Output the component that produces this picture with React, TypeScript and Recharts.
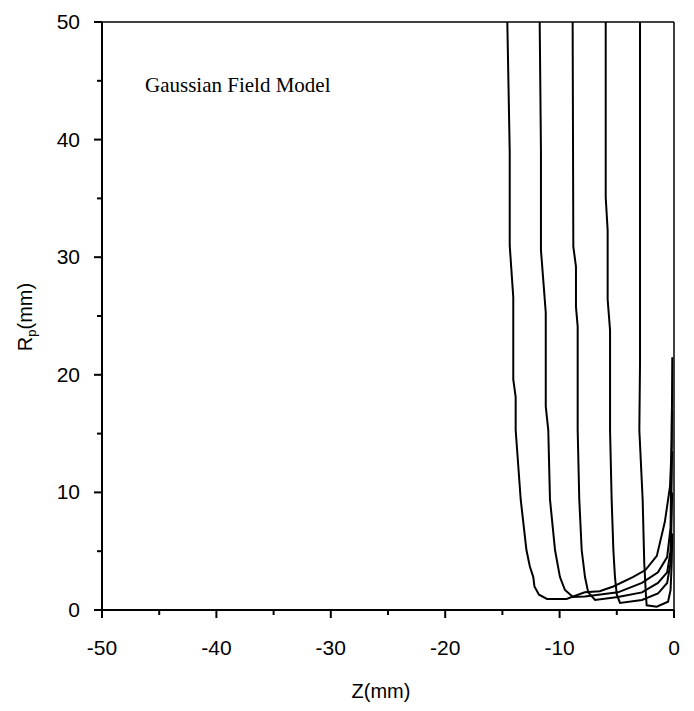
import { LineChart, Line, XAxis, YAxis, ReferenceLine } from "recharts";

// tick positions (every 5, labelled every 10)
const zTicks = [-50, -45, -40, -35, -30, -25, -20, -15, -10, -5, 0];
const rTicks = [0, 5, 10, 15, 20, 25, 30, 35, 40, 45, 50];

// trajectories, (z, r) in mm
const traj1 = [
  { z: -14.57, r: 50 }, { z: -14.36, r: 39 }, { z: -14.36, r: 31 }, { z: -14.05, r: 26.6 },
  { z: -14.05, r: 19.6 }, { z: -13.84, r: 18.1 }, { z: -13.84, r: 15.3 }, { z: -13.4, r: 9.4 },
  { z: -12.9, r: 5.1 }, { z: -12.6, r: 3.7 }, { z: -12.3, r: 2.8 }, { z: -12.2, r: 2.0 },
  { z: -11.8, r: 1.3 }, { z: -11.1, r: 0.94 }, { z: -9.4, r: 0.94 }, { z: -7.8, r: 1.5 },
  { z: -6.5, r: 1.6 }, { z: -5.3, r: 2.0 }, { z: -3.6, r: 2.8 }, { z: -2.5, r: 3.4 },
  { z: -1.5, r: 4.6 }, { z: -0.8, r: 7.5 }, { z: -0.35, r: 10.5 }, { z: -0.2, r: 14 },
  { z: -0.15, r: 21.5 },
];
const traj2 = [
  { z: -11.74, r: 50 }, { z: -11.63, r: 39 }, { z: -11.63, r: 30.6 }, { z: -11.21, r: 25.3 },
  { z: -11.21, r: 17.3 }, { z: -10.99, r: 15.3 }, { z: -10.84, r: 9.4 }, { z: -10.4, r: 5.1 },
  { z: -9.97, r: 2.8 }, { z: -9.53, r: 1.7 }, { z: -8.83, r: 1.1 }, { z: -7.8, r: 1.15 },
  { z: -4.9, r: 1.5 }, { z: -2.8, r: 2.3 }, { z: -1.4, r: 3.2 }, { z: -0.6, r: 4.5 },
  { z: -0.3, r: 7 }, { z: -0.18, r: 17 },
];
const traj3 = [
  { z: -8.86, r: 50 }, { z: -8.8, r: 30.9 }, { z: -8.57, r: 29.2 }, { z: -8.57, r: 25.8 },
  { z: -8.42, r: 24.1 }, { z: -8.42, r: 15.3 }, { z: -8.28, r: 9.4 }, { z: -8.07, r: 5.1 },
  { z: -7.78, r: 2.8 }, { z: -7.5, r: 1.5 }, { z: -6.9, r: 0.85 }, { z: -4.9, r: 1.1 },
  { z: -2.8, r: 1.5 }, { z: -1.4, r: 2.3 }, { z: -0.6, r: 3.2 }, { z: -0.3, r: 5 },
  { z: -0.17, r: 13.5 },
];
const traj4 = [
  { z: -5.97, r: 50 }, { z: -5.97, r: 35.1 }, { z: -5.8, r: 32.3 }, { z: -5.8, r: 26.4 },
  { z: -5.59, r: 23.8 }, { z: -5.59, r: 15.3 }, { z: -5.45, r: 9.4 }, { z: -5.3, r: 5.1 },
  { z: -5.16, r: 2.8 }, { z: -5.0, r: 1.3 }, { z: -4.72, r: 0.6 }, { z: -2.8, r: 0.85 },
  { z: -1.4, r: 1.4 }, { z: -0.6, r: 2.3 }, { z: -0.3, r: 4 }, { z: -0.16, r: 10 },
];
const traj5 = [
  { z: -2.97, r: 50 }, { z: -2.97, r: 21 }, { z: -3.03, r: 15.3 }, { z: -2.74, r: 9.4 },
  { z: -2.6, r: 4 }, { z: -2.45, r: 1.2 }, { z: -2.39, r: 0.4 }, { z: -1.51, r: 0.28 },
  { z: -0.52, r: 0.7 }, { z: -0.3, r: 1.7 }, { z: -0.2, r: 4 }, { z: -0.15, r: 6.5 },
];

const trajectories = [traj1, traj2, traj3, traj4, traj5];

const FONT = "'Liberation Sans', Arial, sans-serif";
const TICK_FONT = 21;

function XTick({ x, y, payload }: any) {
  const major = payload.value % 10 === 0;
  return (
    <g>
      <line x1={x} y1={y} x2={x} y2={y + (major ? 8 : 5)} stroke="#000" strokeWidth={2} />
      {major && (
        <text x={x} y={y + 45} textAnchor="middle" fontFamily={FONT} fontSize={TICK_FONT} fill="#000">
          {payload.value}
        </text>
      )}
    </g>
  );
}

function YTick({ x, y, payload }: any) {
  const major = payload.value % 10 === 0;
  return (
    <g>
      <line x1={x - (major ? 8 : 5)} y1={y} x2={x} y2={y} stroke="#000" strokeWidth={2} />
      {major && (
        <text x={x - 22} y={y + 7} textAnchor="end" fontFamily={FONT} fontSize={TICK_FONT} fill="#000">
          {payload.value}
        </text>
      )}
    </g>
  );
}

function YTitle() {
  return (
    <text transform="translate(24,309) rotate(-90)" textAnchor="middle" fontFamily={FONT} fontSize={20} fill="#000">
      R<tspan fontSize={13} dy={4}>p</tspan>
      <tspan dy={-4}>(mm)</tspan>
    </text>
  );
}

function XTitle() {
  return (
    <text x={373} y={690} textAnchor="middle" fontFamily={FONT} fontSize={20} fill="#000">
      Z(mm)
    </text>
  );
}

export default function App() {
  return (
    <div style={{ position: "relative", width: 680, height: 700 }}>
      <LineChart width={680} height={700} margin={{ top: 14, right: 14, left: 34, bottom: 38 }}>
        <XAxis
          type="number"
          dataKey="z"
          domain={[-50, 0]}
          ticks={zTicks}
          interval={0}
          tickSize={0}
          tickMargin={0}
          tickLine={false}
          tick={<XTick />}
          height={60}
          axisLine={{ stroke: "#000", strokeWidth: 2 }}
          label={<XTitle />}
        />
        <YAxis
          type="number"
          dataKey="r"
          domain={[0, 50]}
          ticks={rTicks}
          interval={0}
          tickSize={0}
          tickMargin={0}
          tickLine={false}
          tick={<YTick />}
          width={60}
          axisLine={{ stroke: "#000", strokeWidth: 2 }}
          label={<YTitle />}
        />
        <ReferenceLine y={50} stroke="#000" strokeWidth={1.5} />
        <ReferenceLine x={0} stroke="#000" strokeWidth={1.5} />
        {trajectories.map((d, i) => (
          <Line
            key={i}
            data={d}
            dataKey="r"
            type="linear"
            stroke="#000"
            strokeWidth={2}
            dot={false}
            isAnimationActive={false}
          />
        ))}
      </LineChart>
      <div
        style={{
          position: "absolute",
          left: 137,
          top: 65,
          fontFamily: "'Liberation Serif', 'Times New Roman', serif",
          fontSize: 21,
          color: "#000",
          whiteSpace: "nowrap",
        }}
      >
        Gaussian Field Model
      </div>
    </div>
  );
}
